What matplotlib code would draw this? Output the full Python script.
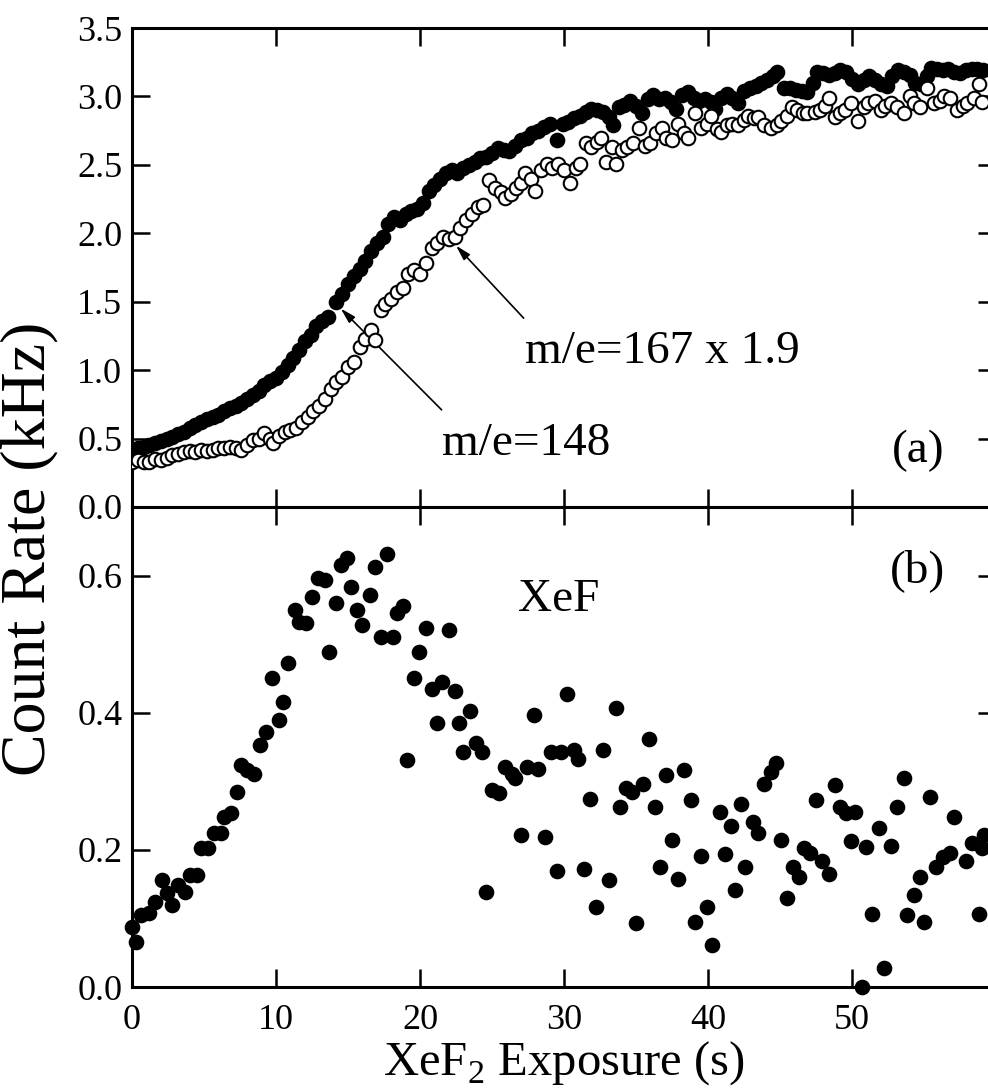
import numpy as np
import matplotlib
matplotlib.use('Agg')
import matplotlib.pyplot as plt

plt.rcParams['font.family'] = ['Liberation Serif', 'DejaVu Serif']
plt.rcParams['mathtext.fontset'] = 'custom'
plt.rcParams['mathtext.rm'] = 'Liberation Serif'

# panel (a): m/e=148 (filled)
t148 = [0.0, 0.4, 0.8, 1.2, 1.6, 2.0, 2.4, 2.8, 3.2, 3.6, 4.0, 4.4, 4.8, 5.2, 5.6, 6.0,
        6.4, 6.8, 7.2, 7.6, 8.0, 8.4, 8.8, 9.2, 9.6, 10.0, 10.4, 10.8, 11.2, 11.6, 12.0,
        12.4, 12.8, 13.2, 13.6, 14.2, 14.6, 15.0, 15.4, 15.8, 16.2, 16.6, 17.0, 17.4,
        17.8, 18.2, 18.6, 19.0, 19.4, 19.8, 20.2, 20.6, 21.0, 21.4, 21.8, 22.2, 22.6,
        23.0, 23.4, 23.8, 24.2, 24.6, 25.0, 25.4, 25.8, 26.2, 26.6, 27.0, 27.4, 27.8,
        28.2, 28.6, 29.0, 29.5, 29.9, 30.3, 30.7, 31.1, 31.5, 31.9, 32.3, 32.7, 33.1,
        33.4, 33.8, 34.2, 34.6, 35.0, 35.4, 35.8, 36.2, 36.6, 37.0, 37.4, 37.8, 38.2,
        38.6, 39.0, 39.4, 39.8, 40.2, 40.5, 40.9, 41.3, 41.7, 42.1, 42.5, 42.9, 43.3,
        43.7, 44.1, 44.5, 44.8, 45.3, 45.7, 46.1, 46.5, 46.9, 47.3, 47.6, 48.0, 48.4,
        48.8, 49.2, 49.6, 50.0, 50.4, 50.8, 51.2, 51.6, 52.0, 52.4, 52.8, 53.2, 53.6,
        54.0, 54.4, 54.8, 55.2, 55.5, 55.9, 56.3, 56.7, 57.1, 57.5, 57.9, 58.3, 58.7, 59.1]
c148 = [0.42, 0.43, 0.44, 0.45, 0.47, 0.48, 0.50, 0.51, 0.53, 0.55, 0.58, 0.60, 0.62, 0.64,
        0.66, 0.67, 0.70, 0.72, 0.74, 0.76, 0.79, 0.82, 0.85, 0.89, 0.92, 0.94, 0.99, 1.04,
        1.09, 1.15, 1.21, 1.26, 1.32, 1.36, 1.39, 1.50, 1.56, 1.63, 1.69, 1.74, 1.80, 1.87,
        1.93, 1.97, 2.07, 2.12, 2.10, 2.14, 2.16, 2.18, 2.22, 2.31, 2.35, 2.40, 2.44, 2.46,
        2.44, 2.48, 2.50, 2.52, 2.55, 2.56, 2.59, 2.62, 2.61, 2.60, 2.64, 2.68, 2.70, 2.73,
        2.75, 2.78, 2.80, 2.68, 2.80, 2.81, 2.84, 2.86, 2.89, 2.91, 2.90, 2.89, 2.85, 2.79,
        2.92, 2.94, 2.97, 2.93, 2.88, 2.98, 3.01, 2.98, 2.99, 2.96, 2.91, 3.01, 3.03, 2.99,
        2.97, 2.98, 2.96, 2.91, 2.99, 3.02, 2.99, 2.95, 3.04, 3.06, 3.08, 3.10, 3.12, 3.15,
        3.18, 3.06, 3.06, 3.05, 3.04, 3.03, 3.10, 3.18, 3.17, 3.16, 3.17, 3.19, 3.18, 3.13,
        3.09, 3.12, 3.15, 3.12, 3.09, 3.08, 3.15, 3.19, 3.18, 3.16, 3.10, 3.09, 3.15, 3.21,
        3.20, 3.19, 3.20, 3.18, 3.17, 3.19, 3.20, 3.20, 3.19]

# panel (a): m/e=167 x 1.9 (open)
t167 = [0.0, 0.4, 0.8, 1.2, 1.6, 2.0, 2.4, 2.8, 3.2, 3.6, 4.0, 4.4, 4.8, 5.2, 5.6, 6.0,
        6.4, 6.8, 7.2, 7.6, 8.0, 8.4, 8.8, 9.2, 9.6, 9.8, 10.2, 10.6, 11.0, 11.4, 11.8,
        12.2, 12.6, 13.0, 13.4, 13.8, 14.2, 14.6, 15.0, 15.4, 15.8, 16.2, 16.6, 16.9,
        17.3, 17.6, 18.0, 18.4, 18.8, 19.2, 19.6, 20.0, 20.4, 20.8, 21.2, 21.6, 22.0,
        22.4, 22.8, 23.2, 23.6, 24.0, 24.4, 24.8, 25.2, 25.6, 25.9, 26.3, 26.7, 27.0,
        27.3, 27.7, 28.0, 28.4, 28.8, 29.2, 29.6, 30.0, 30.4, 30.8, 31.1, 31.5, 31.9,
        32.3, 32.6, 32.9, 33.3, 33.6, 34.0, 34.4, 34.8, 35.2, 35.6, 36.0, 36.4, 36.8,
        37.1, 37.5, 37.9, 38.3, 38.6, 39.1, 39.5, 39.9, 40.2, 40.6, 40.9, 41.3, 41.7,
        42.1, 42.5, 42.8, 43.2, 43.5, 43.9, 44.4, 44.8, 45.1, 45.5, 45.8, 46.2, 46.6,
        46.9, 47.4, 47.8, 48.1, 48.4, 48.8, 49.2, 49.5, 49.9, 50.4, 50.8, 51.1, 51.6,
        52.0, 52.3, 52.7, 53.1, 53.6, 54.0, 54.3, 54.7, 55.2, 55.7, 56.1, 56.4, 56.8,
        57.3, 57.7, 58.0, 58.5, 58.8, 59.0]
c167 = [0.33, 0.34, 0.33, 0.33, 0.35, 0.34, 0.36, 0.38, 0.39, 0.40, 0.41, 0.40, 0.42, 0.41,
        0.42, 0.43, 0.43, 0.44, 0.43, 0.42, 0.45, 0.49, 0.50, 0.54, 0.50, 0.47, 0.52, 0.55,
        0.56, 0.58, 0.62, 0.66, 0.70, 0.74, 0.79, 0.86, 0.91, 0.95, 1.02, 1.06, 1.17, 1.23,
        1.29, 1.22, 1.44, 1.48, 1.52, 1.57, 1.60, 1.70, 1.73, 1.70, 1.78, 1.89, 1.93, 1.97,
        1.96, 1.97, 2.04, 2.10, 2.14, 2.19, 2.21, 2.39, 2.33, 2.30, 2.26, 2.29, 2.33, 2.37,
        2.44, 2.40, 2.31, 2.46, 2.51, 2.48, 2.51, 2.46, 2.37, 2.48, 2.51, 2.66, 2.63, 2.67,
        2.70, 2.52, 2.63, 2.51, 2.61, 2.63, 2.66, 2.77, 2.64, 2.66, 2.73, 2.77, 2.70, 2.68,
        2.80, 2.73, 2.70, 2.88, 2.77, 2.80, 2.86, 2.76, 2.74, 2.79, 2.80, 2.79, 2.83, 2.86,
        2.84, 2.85, 2.79, 2.77, 2.79, 2.82, 2.86, 2.92, 2.90, 2.88, 2.88, 2.89, 2.90, 2.93,
        2.99, 2.85, 2.88, 2.90, 2.95, 2.82, 2.92, 2.95, 2.97, 2.90, 2.93, 2.95, 2.92, 2.88,
        3.00, 2.95, 2.92, 3.06, 2.95, 2.97, 3.00, 2.99, 2.90, 2.93, 2.95, 2.99, 3.09, 2.96]

# panel (b): XeF
txef = [0.0, 0.3, 0.6, 1.2, 1.6, 2.1, 2.4, 2.8, 3.2, 3.7, 4.0, 4.5, 4.8, 5.3, 5.7, 6.2,
        6.4, 6.9, 7.3, 7.6, 8.0, 8.5, 8.9, 9.3, 9.7, 10.2, 10.5, 10.8, 11.3, 11.6, 12.1,
        12.5, 12.9, 13.4, 13.7, 14.2, 14.5, 14.9, 15.2, 15.6, 16.0, 16.5, 16.9, 17.3,
        17.7, 18.1, 18.4, 18.8, 19.1, 19.6, 19.9, 20.4, 20.8, 21.2, 21.5, 22.0, 22.4,
        22.7, 23.0, 23.5, 23.9, 24.3, 24.6, 25.0, 25.5, 25.9, 26.4, 26.6, 27.0, 27.4,
        27.9, 28.2, 28.7, 29.1, 29.5, 29.8, 30.2, 30.7, 31.0, 31.4, 31.8, 32.2, 32.7,
        33.1, 33.6, 33.9, 34.3, 34.7, 35.0, 35.5, 35.9, 36.3, 36.7, 37.1, 37.5, 37.9,
        38.3, 38.8, 39.1, 39.5, 39.9, 40.3, 40.8, 41.2, 41.6, 41.9, 42.3, 42.6, 43.1,
        43.5, 43.9, 44.4, 44.7, 45.1, 45.5, 45.9, 46.3, 46.7, 47.1, 47.5, 47.9, 48.4,
        48.8, 49.2, 49.6, 49.9, 50.2, 50.7, 51.0, 51.4, 51.9, 52.2, 52.7, 53.1, 53.6,
        53.8, 54.3, 54.7, 55.0, 55.4, 55.8, 56.3, 56.8, 57.1, 57.9, 58.3, 58.8, 59.0, 59.2]
cxef = [0.088, 0.066, 0.105, 0.108, 0.124, 0.156, 0.137, 0.120, 0.149, 0.139, 0.163, 0.163,
        0.203, 0.203, 0.225, 0.225, 0.248, 0.254, 0.285, 0.324, 0.317, 0.310, 0.353, 0.372,
        0.451, 0.390, 0.416, 0.473, 0.550, 0.533, 0.531, 0.569, 0.597, 0.594, 0.489, 0.560,
        0.616, 0.626, 0.584, 0.550, 0.528, 0.572, 0.612, 0.511, 0.631, 0.511, 0.546, 0.555,
        0.331, 0.451, 0.488, 0.524, 0.434, 0.385, 0.445, 0.520, 0.431, 0.385, 0.343, 0.403,
        0.356, 0.342, 0.139, 0.288, 0.283, 0.321, 0.310, 0.305, 0.222, 0.321, 0.397, 0.318,
        0.219, 0.343, 0.169, 0.342, 0.428, 0.345, 0.333, 0.172, 0.274, 0.117, 0.345, 0.156,
        0.407, 0.263, 0.290, 0.285, 0.093, 0.296, 0.361, 0.263, 0.175, 0.309, 0.215, 0.158,
        0.317, 0.273, 0.095, 0.191, 0.117, 0.061, 0.255, 0.194, 0.235, 0.142, 0.267, 0.175,
        0.241, 0.225, 0.296, 0.314, 0.327, 0.215, 0.130, 0.175, 0.161, 0.203, 0.196, 0.272,
        0.184, 0.165, 0.295, 0.263, 0.254, 0.213, 0.255, 0.000, 0.204, 0.107, 0.232, 0.028,
        0.206, 0.263, 0.305, 0.105, 0.134, 0.161, 0.095, 0.277, 0.175, 0.190, 0.196, 0.248,
        0.184, 0.210, 0.107, 0.203, 0.222]

fig = plt.figure(figsize=(9.88, 10.91), dpi=100)
# right spine sits just past the image edge, as in the cropped original
ax1 = fig.add_axes([0.1336, 0.5353, 0.8745, 0.4390])
ax2 = fig.add_axes([0.1336, 0.0953, 0.8745, 0.4400])

ax1.scatter(t148, c148, s=105, color='black', zorder=3)
ax1.scatter(t167, c167, s=95, facecolors='white', edgecolors='black', linewidths=1.5, zorder=4)
ax2.scatter(txef, cxef, s=105, color='black', zorder=3, clip_on=False)

ax1.set_xlim(0, 60)
ax1.set_ylim(0, 3.5)
ax2.set_xlim(0, 60)
ax2.set_ylim(0, 0.7)
ax1.set_yticks(np.arange(0, 3.51, 0.5))
ax2.set_yticks([0.0, 0.2, 0.4, 0.6])
for ax in (ax1, ax2):
    ax.set_xticks([0, 10, 20, 30, 40, 50])
    ax.tick_params(direction='in', length=13, width=1.8, top=True, right=True,
                   labelsize=26)
    ax.tick_params(axis='y', pad=7)
    ax.tick_params(axis='x', pad=12)
    for sp in ax.spines.values():
        sp.set_linewidth(2.2)
    ax.yaxis.set_major_formatter(matplotlib.ticker.FormatStrFormatter('%.1f'))
ax1.tick_params(axis='x', labelbottom=False)

# annotations
arrow = dict(arrowstyle='-|>,head_length=0.9,head_width=0.25', lw=1.2, color='black',
             shrinkA=0, shrinkB=0)
ax1.annotate('', xy=(14.5, 1.45), xytext=(21.5, 0.71), arrowprops=arrow)
ax1.annotate('', xy=(22.5, 1.91), xytext=(27.2, 1.38), arrowprops=arrow)
ax1.text(21.5, 0.38, 'm/e=148', fontsize=34, ha='left', va='baseline')
ax1.text(27.3, 1.05, 'm/e=167 x 1.9', fontsize=34, ha='left', va='baseline')
ax1.text(56.4, 0.41, '(a)', fontsize=34, ha='right', va='center')
ax2.text(56.5, 0.607, '(b)', fontsize=34, ha='right', va='center')
ax2.text(29.6, 0.565, 'XeF', fontsize=34, ha='center', va='center')

ax2.set_xlabel(r'XeF$_\mathrm{2}$ Exposure (s)', fontsize=35, labelpad=2)
fig.text(0.03, 0.497, 'Count Rate (kHz)', fontsize=46, rotation=90,
         ha='center', va='center')

fig.savefig('out.png', dpi=100)
